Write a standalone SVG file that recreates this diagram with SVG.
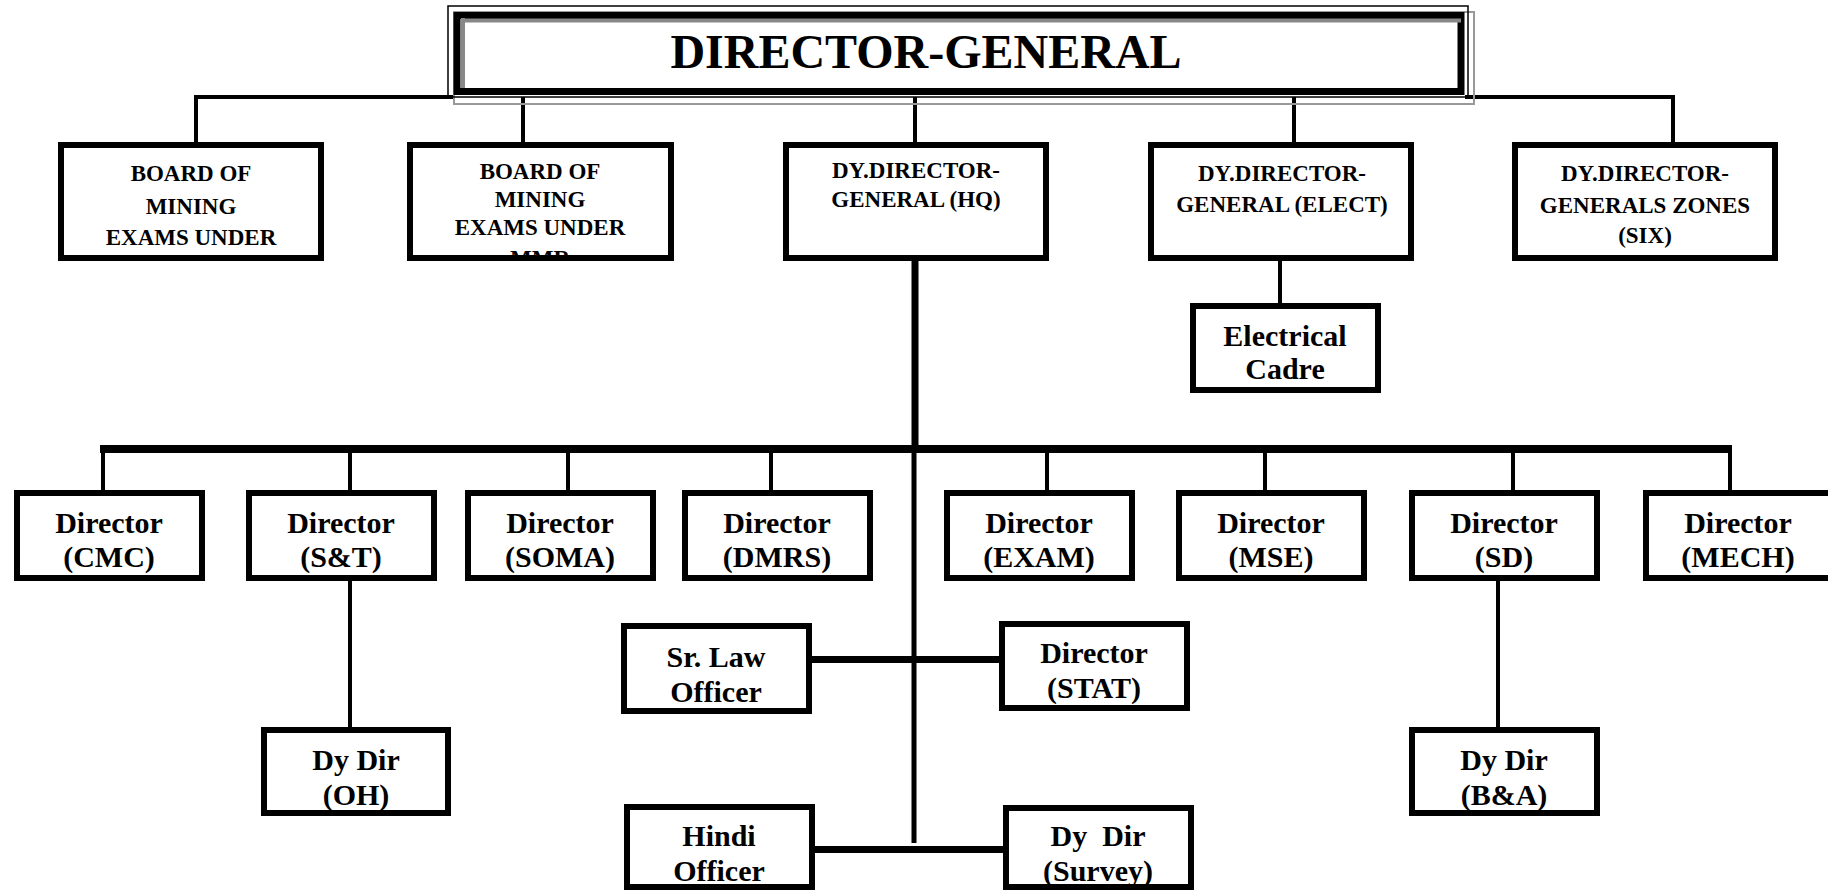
<svg xmlns="http://www.w3.org/2000/svg" width="1828" height="892" viewBox="0 0 1828 892">
<style>
.box{fill:#fff;stroke:#000;stroke-width:6}
.t{font-family:"Liberation Serif","Times New Roman",serif;font-weight:bold;fill:#000;text-anchor:middle}
.s{font-size:23px}
.m{font-size:30px}
.ln{stroke:#000;fill:none}
</style>
<defs>
<clipPath id="cb2"><rect x="413" y="148" width="255" height="108"/></clipPath>
</defs>
<rect width="1828" height="892" fill="#fff"/>
<g id="connectors" class="ln">
<path d="M196 142 V97 H453" stroke-width="4"/>
<path d="M1465 97 H1673 V142" stroke-width="4"/>
<path d="M523 97 V142 M915 97 V142 M1294 97 V142" stroke-width="4"/>
<path d="M1280 259 V303" stroke-width="4"/>
<path d="M915 259 V449" stroke-width="7"/>
<path d="M100 449 H1732" stroke-width="8"/>
<path d="M103 449 V490 M350 449 V490 M568 449 V490 M771 449 V490 M1047 449 V490 M1265 449 V490 M1513 449 V490 M1730 449 V490" stroke-width="4"/>
<path d="M914 449 V843" stroke-width="5"/>
<path d="M350 579 V727 M1498 579 V727" stroke-width="4"/>
<path d="M812 659.5 H999" stroke-width="7"/>
<path d="M815 849.5 H1003" stroke-width="7"/>
</g>
<g id="director-general">
<rect x="454" y="12" width="1020" height="92" fill="none" stroke="#999" stroke-width="2"/>
<rect x="448" y="6" width="1020" height="91" fill="none" stroke="#000" stroke-width="1.5"/>
<rect x="457" y="15.5" width="1004" height="76" fill="#fff" stroke="#000" stroke-width="7"/>
<path d="M461 20.5 H1461 M463 18 V88" stroke="#888" stroke-width="4" fill="none"/>
<text class="t" x="926" y="68" font-size="48">DIRECTOR-GENERAL</text>
</g>
<g id="board-cmr">
<rect class="box" x="61" y="145" width="260" height="113"/>
<text class="t s" x="191" y="181">BOARD OF</text>
<text class="t s" x="191" y="214">MINING</text>
<text class="t s" x="191" y="245">EXAMS UNDER</text>
</g>
<g id="board-mmr">
<rect class="box" x="410" y="145" width="261" height="113"/>
<text class="t s" x="540" y="179">BOARD OF</text>
<text class="t s" x="540" y="207">MINING</text>
<text class="t s" x="540" y="235">EXAMS UNDER</text>
<text class="t s" x="540" y="266" clip-path="url(#cb2)">MMR</text>
</g>
<g id="ddg-hq">
<rect class="box" x="786" y="145" width="260" height="113"/>
<text class="t s" x="916" y="178">DY.DIRECTOR-</text>
<text class="t s" x="916" y="207">GENERAL (HQ)</text>
</g>
<g id="ddg-elect">
<rect class="box" x="1151" y="145" width="260" height="113"/>
<text class="t s" x="1282" y="181">DY.DIRECTOR-</text>
<text class="t s" x="1282" y="212">GENERAL (ELECT)</text>
</g>
<g id="ddg-zones">
<rect class="box" x="1515" y="145" width="260" height="113"/>
<text class="t s" x="1645" y="181">DY.DIRECTOR-</text>
<text class="t s" x="1645" y="213">GENERALS ZONES</text>
<text class="t s" x="1645" y="243">(SIX)</text>
</g>
<g id="electrical-cadre">
<rect class="box" x="1193" y="306" width="185" height="84"/>
<text class="t m" x="1285" y="346">Electrical</text>
<text class="t m" x="1285" y="379">Cadre</text>
</g>
<g id="dir-cmc">
<rect class="box" x="17" y="493" width="185" height="85"/>
<text class="t m" x="109" y="533">Director</text>
<text class="t m" x="109" y="567">(CMC)</text>
</g>
<g id="dir-st">
<rect class="box" x="249" y="493" width="185" height="85"/>
<text class="t m" x="341" y="533">Director</text>
<text class="t m" x="341" y="567">(S&amp;T)</text>
</g>
<g id="dir-soma">
<rect class="box" x="468" y="493" width="185" height="85"/>
<text class="t m" x="560" y="533">Director</text>
<text class="t m" x="560" y="567">(SOMA)</text>
</g>
<g id="dir-dmrs">
<rect class="box" x="685" y="493" width="185" height="85"/>
<text class="t m" x="777" y="533">Director</text>
<text class="t m" x="777" y="567">(DMRS)</text>
</g>
<g id="dir-exam">
<rect class="box" x="947" y="493" width="185" height="85"/>
<text class="t m" x="1039" y="533">Director</text>
<text class="t m" x="1039" y="567">(EXAM)</text>
</g>
<g id="dir-mse">
<rect class="box" x="1179" y="493" width="185" height="85"/>
<text class="t m" x="1271" y="533">Director</text>
<text class="t m" x="1271" y="567">(MSE)</text>
</g>
<g id="dir-sd">
<rect class="box" x="1412" y="493" width="185" height="85"/>
<text class="t m" x="1504" y="533">Director</text>
<text class="t m" x="1504" y="567">(SD)</text>
</g>
<g id="dir-mech">
<rect class="box" x="1646" y="493" width="185" height="85"/>
<text class="t m" x="1738" y="533">Director</text>
<text class="t m" x="1738" y="567">(MECH)</text>
</g>
<g id="dydir-oh">
<rect class="box" x="264" y="730" width="184" height="83"/>
<text class="t m" x="356" y="770">Dy Dir</text>
<text class="t m" x="356" y="805">(OH)</text>
</g>
<g id="dydir-ba">
<rect class="box" x="1412" y="730" width="185" height="83"/>
<text class="t m" x="1504" y="770">Dy Dir</text>
<text class="t m" x="1504" y="805">(B&amp;A)</text>
</g>
<g id="sr-law-officer">
<rect class="box" x="624" y="626" width="185" height="85"/>
<text class="t m" x="716" y="667">Sr. Law</text>
<text class="t m" x="716" y="702">Officer</text>
</g>
<g id="dir-stat">
<rect class="box" x="1002" y="624" width="185" height="84"/>
<text class="t m" x="1094" y="663">Director</text>
<text class="t m" x="1094" y="698">(STAT)</text>
</g>
<g id="hindi-officer">
<rect class="box" x="627" y="807" width="185" height="80"/>
<text class="t m" x="719" y="846">Hindi</text>
<text class="t m" x="719" y="881">Officer</text>
</g>
<g id="dydir-survey">
<rect class="box" x="1006" y="808" width="185" height="79"/>
<text class="t m" x="1098" y="846" xml:space="preserve">Dy  Dir</text>
<text class="t m" x="1098" y="881">(Survey)</text>
</g>
</svg>
